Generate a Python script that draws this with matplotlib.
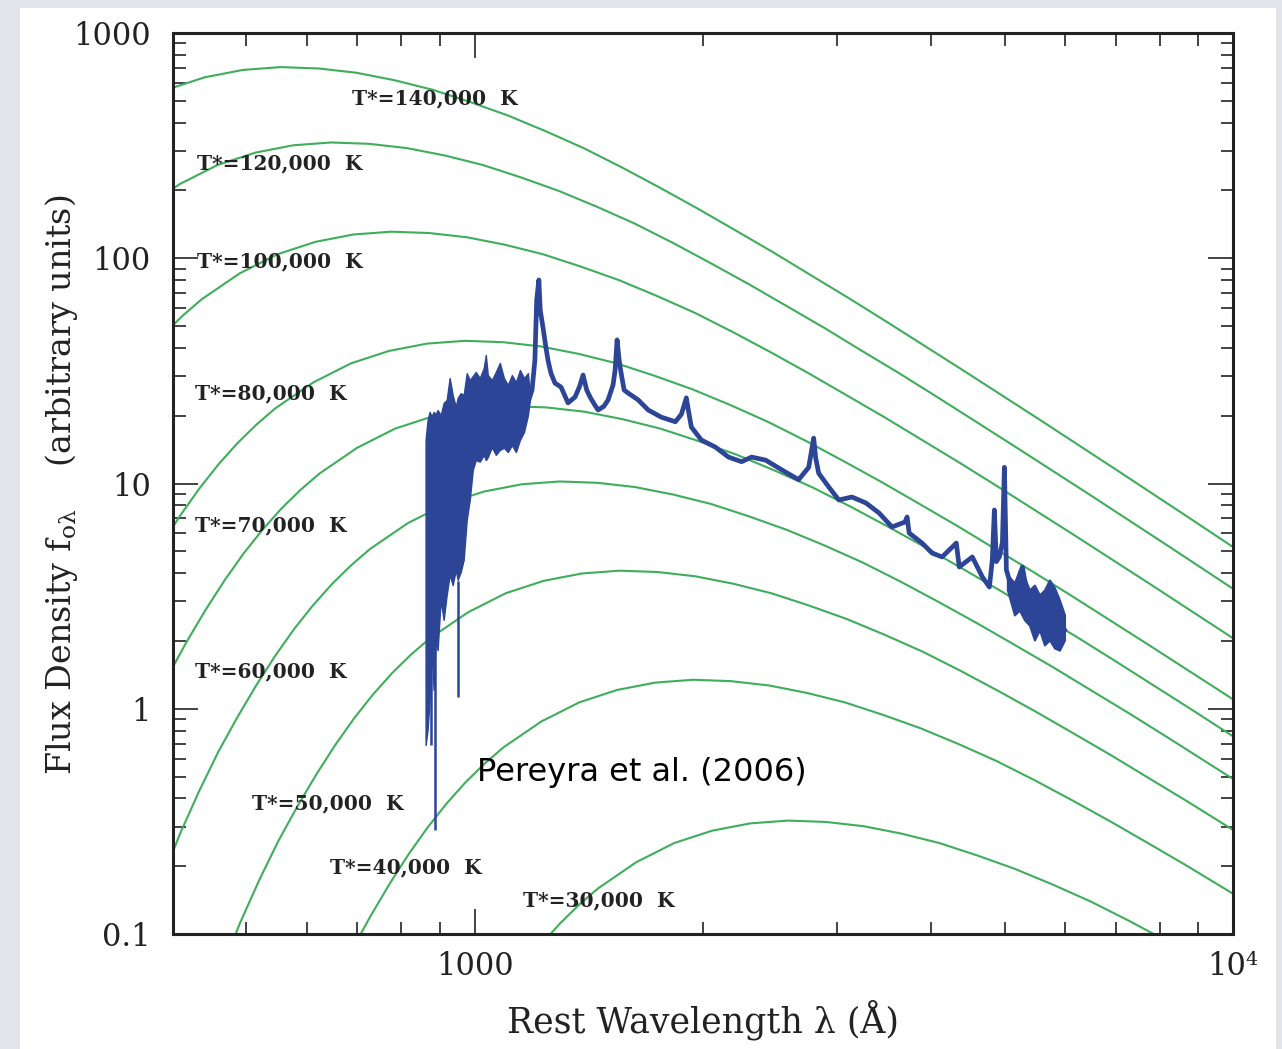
import matplotlib
matplotlib.use("Agg")
import matplotlib.pyplot as plt
from matplotlib.patches import Rectangle
from matplotlib.ticker import NullFormatter, LogLocator

# Disk model curves, T* = 140,000 K ... 30,000 K (wavelength in A, flux arbitrary)
lam_140k = [392.6, 440.6, 494.3, 554.6, 622.3, 698.2, 783.4, 879.0, 986.1, 1106.6, 1241.4, 1393,
            1563, 1754, 1967.6, 2208, 2477, 2780, 3118.5, 3499, 4406, 5546, 6982, 8790, 11066]
flux_140k = [560.5, 636, 685.5, 705.6, 695.9, 666.1, 617.3, 560.5, 493.9, 430.1, 366.0, 307.9,
             253.2, 205.8, 166.2, 132.9, 106.1, 83.8, 66.3, 52.06, 31.8, 19.30, 11.63, 6.974, 4.164]

lam_120k = [363.7, 408.1, 457.9, 513.7, 576.4, 646.8, 725.6, 814.2, 913.6, 1025, 1150.3, 1290.5,
            1448.6, 1625, 1823.6, 2045, 2295.8, 2575, 2890, 3241, 3638, 4081, 5137, 6468, 8142,
            10250]
flux_120k = [163.7, 213.3, 259.4, 294.4, 317.4, 326.6, 322.1, 308.3, 285.8, 259.4, 228.6, 199.1,
             169.4, 142.6, 117.2, 95.3, 76.9, 61.5, 49.1, 38.8, 30.7, 24.1, 14.72, 8.93, 5.383, 3.228]

lam_100k = [389.0, 412.1, 436.5, 489.8, 549.5, 616.6, 691.8, 776.2, 871.0, 977.2, 1096, 1230,
            1380.4, 1549, 1737.8, 1950, 2187.8, 2455, 2754.2, 3090, 3467.4, 3890, 4365.2, 4898,
            6166, 7762, 9772, 12300]
flux_100k = [46.03, 55.67, 65.77, 85.7, 104.2, 118.3, 127.5, 131.2, 129.4, 123.9, 114.8, 104.2,
             91.8, 80.0, 68.08, 57.3, 47.1, 38.3, 30.9, 24.7, 19.72, 15.6, 12.33, 9.68, 5.916,
             3.589, 2.163, 1.297]

lam_80k = [386.3, 409.2, 433.5, 459.1, 486.3, 515.1, 545.6, 612.3, 686.9, 770.7, 864.8, 970.3,
           1088.7, 1221.6, 1371, 1538, 1725.7, 1936, 2172.6, 2437, 2735, 3068, 3443.5, 3863, 4335,
           4863, 5457, 6123, 7707, 9703, 12216]
flux_80k = [5.352, 7.236, 9.517, 12.15, 15.08, 18.24, 21.55, 28.09, 34.17, 38.77, 41.78, 43.0,
            42.41, 40.6, 37.63, 34.17, 30.09, 26.21, 22.31, 18.77, 15.44, 12.55, 10.13, 8.10, 6.464,
            5.111, 4.042, 3.174, 1.939, 1.176, 0.709]

lam_70k = [393.6, 416.8, 441.5, 467.7, 495.4, 524.8, 555.8, 588.8, 623.6, 699.6, 785.0, 880.9,
           988.3, 1108.9, 1244, 1396.5, 1566.5, 1757.6, 1972, 2213, 2483, 2786, 3126, 3507, 3935,
           4415, 4954, 5558, 6236, 6997, 8809, 11089]
flux_70k = [1.392, 1.979, 2.745, 3.711, 4.881, 6.230, 7.735, 9.354, 11.05, 14.40, 17.52, 19.88,
            21.43, 22.06, 21.76, 20.82, 19.30, 17.52, 15.44, 13.44, 11.44, 9.627, 7.915, 6.435,
            5.194, 4.154, 3.315, 2.621, 2.073, 1.627, 0.994, 0.603]

lam_60k = [364.6, 386.3, 409.1, 433.4, 459.0, 486.3, 515.0, 545.6, 577.8, 612.2, 648.4, 686.9,
           727.4, 816.1, 915.8, 1027.5, 1153, 1293.6, 1451.9, 1628.6, 1827, 2050, 2300, 2581,
           2896.6, 3249, 3646.5, 4090, 4590, 5150, 5778, 6484, 7274, 8161, 10275]
flux_60k = [0.1021, 0.1734, 0.2812, 0.4335, 0.6442, 0.9162, 1.27, 1.718, 2.259, 2.884, 3.581,
            4.331, 5.117, 6.668, 8.11, 9.204, 9.92, 10.21, 10.07, 9.64, 8.93, 8.11, 7.145, 6.223,
            5.297, 4.457, 3.664, 2.979, 2.404, 1.923, 1.535, 1.213, 0.9594, 0.7534, 0.4603]

lam_50k = [437.5, 463.4, 490.9, 520.0, 550.8, 583.4, 618.0, 654.6, 693.4, 734.5, 778.0, 824.1,
           873.0, 979.5, 1099, 1233, 1384, 1552, 1742, 1954, 2193, 2460, 2761, 3097, 3475, 3899,
           4375, 4909, 5508, 6180, 6934, 7780, 8730, 9795, 12331]
flux_50k = [0.041, 0.0697, 0.113, 0.1742, 0.2588, 0.3681, 0.5105, 0.6902, 0.9078, 1.159, 1.439,
            1.740, 2.056, 2.679, 3.258, 3.698, 3.985, 4.102, 4.046, 3.873, 3.589, 3.258, 2.871,
            2.500, 2.128, 1.791, 1.472, 1.197, 0.966, 0.7727, 0.6166, 0.4875, 0.3855, 0.3027,
            0.1849]

lam_40k = [613.8, 650.0, 688.4, 729.3, 772.4, 818.2, 866.8, 918.2, 972.5, 1030.1, 1091, 1224,
           1374, 1541, 1729, 1940, 2177, 2443, 2741, 3075, 3450, 3871, 4344, 4874, 5469, 6136,
           6885, 7724, 8668, 9725, 10911, 12243]
flux_40k = [0.037, 0.0571, 0.0848, 0.1206, 0.1673, 0.2262, 0.2975, 0.3798, 0.4716, 0.5702,
            0.6738, 0.8780, 1.068, 1.212, 1.306, 1.345, 1.326, 1.269, 1.176, 1.068, 0.9408,
            0.8194, 0.6975, 0.5867, 0.4825, 0.3923, 0.3166, 0.2533, 0.2020, 0.1598, 0.1263, 0.0992]

lam_30k = [1030.1, 1091.1, 1155.7, 1224, 1297, 1373.6, 1455.7, 1633, 1832, 2055, 2307, 2588,
           2903, 3257, 3655, 4101, 4602, 5163, 5793, 6500, 7294, 8183, 9182, 10302]
flux_30k = [0.0397, 0.0536, 0.0706, 0.0901, 0.1118, 0.1352, 0.1598, 0.2083, 0.2533, 0.2874,
            0.3097, 0.3188, 0.3144, 0.3010, 0.2790, 0.2533, 0.2231, 0.1943, 0.1654, 0.1391,
            0.1144, 0.0930, 0.0751, 0.0600]

curve_labels = ["T*=140,000  K", "T*=120,000  K", "T*=100,000  K", "T*=80,000  K",
                "T*=70,000  K", "T*=60,000  K", "T*=50,000  K", "T*=40,000  K", "T*=30,000  K"]

# quasar spectrum: Ly-alpha forest envelope
forest_lam = [861.3, 866.5, 871.9, 877.1, 882.6, 887.9, 893.4, 901.6, 909.9, 918.3, 926.6, 935.2,
              943.9, 949.5, 958.3, 966.9, 975.9, 984.9, 994.0, 1003.0, 1015.3, 1027.8, 1034.1,
              1040.4, 1053.2, 1066.1, 1079.2, 1092.5, 1105.8, 1119.3, 1133.2, 1147.0, 1161.2,
              1175.3, 1182.2]
forest_hi = [15.6, 19.1, 20.8, 19.9, 20.8, 20.3, 21.2, 20.1, 22.8, 23.5, 29.4, 24.7, 21.9, 24.0,
             25.2, 24.7, 30.9, 28.8, 30.0, 31.3, 29.4, 32.6, 37.2, 30.3, 28.8, 31.3, 34.3, 29.4,
             27.4, 30.3, 28.2, 31.9, 29.4, 30.9, 24.7]
forest_lo = [0.69, 0.805, 1.09, 1.82, 1.21, 2.02, 1.82, 3.04, 2.48, 3.20, 3.93, 3.54, 4.13, 3.73,
             4.05, 4.58, 6.89, 8.45, 11.5, 12.7, 12.5, 13.4, 12.7, 13.1, 14.5, 13.4, 14.1, 14.4,
             13.8, 14.8, 13.8, 15.6, 16.9, 20.1, 23.5]
dip_lam = [874.5, 885.2, 949.5]
dip_hi = [1.8, 2.0, 3.7]
dip_lo = [0.69, 0.29, 1.13]

# emission-line part of the spectrum
line_lam = [1175.3, 1190, 1200.4, 1207, 1215, 1220, 1230, 1241.5, 1249, 1260.3, 1275.8, 1299.5,
            1327.4, 1356, 1375, 1389.5, 1405, 1419.3, 1440, 1454.3, 1480, 1499.2, 1522, 1531.6,
            1540.8, 1550.4, 1559.7, 1574, 1593.4, 1642.6, 1693.4, 1762, 1839, 1873, 1901.4,
            1912.8, 1930.5, 1990, 2077, 2161, 2248.6, 2318, 2419, 2540, 2674, 2757, 2782, 2799,
            2816, 2842, 2930, 3021, 3144, 3281, 3413, 3551, 3694, 3717, 3740, 3890, 4010, 4134,
            4290, 4316, 4355, 4531, 4671, 4772, 4815, 4845, 4874, 4919, 4965, 4995, 5025, 5070,
            5180, 5275, 5389, 5556, 5727, 5851, 5904, 5995]
line_flux = [22.8, 26.0, 35.3, 65.3, 80.1, 58.9, 49.5, 40.0, 35.3, 30.9, 27.9, 26.8, 22.8, 24.2,
             27.0, 30.3, 26.0, 24.2, 22.3, 21.2, 22.0, 23.5, 27.4, 31.9, 43.4, 35.3, 30.9, 26.0,
             25.2, 23.5, 21.2, 19.7, 18.8, 20.3, 24.0, 21.2, 17.8, 15.6, 14.5, 13.1, 12.5, 13.1,
             12.7, 11.5, 10.4, 11.8, 14.1, 15.9, 13.0, 11.1, 9.65, 8.45, 8.71, 8.19, 7.40, 6.41,
             6.75, 7.10, 6.03, 5.44, 4.91, 4.72, 5.33, 5.44, 4.26, 4.72, 3.85, 3.47, 4.58, 7.63,
             4.5, 4.72, 5.5, 11.8, 4.13, 3.73, 3.47, 4.26, 2.83, 2.66, 3.47, 2.66, 2.17, 2.24]

# noisy red end
tail_lam = [5040, 5149, 5228, 5309, 5389, 5472, 5556, 5641, 5727, 5816, 5904, 5995]
tail_hi = [3.93, 3.62, 4.13, 3.81, 3.37, 3.54, 3.20, 3.37, 3.73, 3.44, 3.04, 2.61]
tail_lo = [3.37, 2.61, 2.74, 2.48, 2.35, 2.02, 2.24, 1.92, 2.02, 1.86, 1.82, 2.02]

GREEN = "#3fae5c"
BLUE = "#2c4596"

plt.rcParams["font.family"] = "DejaVu Serif"
plt.rcParams["mathtext.fontset"] = "dejavuserif"
plt.rcParams["mathtext.default"] = "regular"

W, H = 1282, 1049
fig = plt.figure(figsize=(W / 100, H / 100), dpi=100)
fig.patch.set_facecolor("#e2e5ea")
fig.add_artist(Rectangle((20 / W, 0), (1276 - 20) / W, 1041 / H, transform=fig.transFigure,
                         facecolor="white", edgecolor="none", zorder=0))

ax = fig.add_axes([173 / W, 1 - 934 / H, 1060 / W, 901 / H])
ax.set_xscale("log")
ax.set_yscale("log")

curves = [(lam_140k, flux_140k), (lam_120k, flux_120k), (lam_100k, flux_100k),
          (lam_80k, flux_80k), (lam_70k, flux_70k), (lam_60k, flux_60k),
          (lam_50k, flux_50k), (lam_40k, flux_40k), (lam_30k, flux_30k)]
for lam, flux in curves:
    ax.plot(lam, flux, color=GREEN, lw=1.5, solid_joinstyle="round", zorder=2)

ax.fill_between(forest_lam, forest_lo, forest_hi, color=BLUE, lw=1.0, zorder=3)
ax.vlines(dip_lam, dip_lo, dip_hi, color=BLUE, lw=1.8, zorder=3)
ax.plot(line_lam, line_flux, color=BLUE, lw=3.4, solid_joinstyle="round", zorder=3)
ax.fill_between(tail_lam, tail_lo, tail_hi, color=BLUE, lw=1.5, zorder=3)

ax.set_xlim(400, 10000)
ax.set_ylim(0.1, 1000)

ax.set_xticks([1000, 10000], labels=["1000", "10⁴"])
ax.set_yticks([0.1, 1, 10, 100, 1000], labels=["0.1", "1", "10", "100", "1000"])
ax.xaxis.set_minor_locator(LogLocator(base=10, subs=range(2, 10), numticks=20))
ax.yaxis.set_minor_locator(LogLocator(base=10, subs=range(2, 10), numticks=20))
ax.xaxis.set_minor_formatter(NullFormatter())
ax.yaxis.set_minor_formatter(NullFormatter())
ax.tick_params(which="both", direction="in", top=True, right=True, width=1.2, color="#222222")
ax.tick_params(which="major", length=18, labelsize=22, labelcolor="#222222")
ax.tick_params(which="minor", length=9)
ax.tick_params(axis="x", which="major", pad=12)
ax.tick_params(axis="y", which="major", pad=16)
for sp in ax.spines.values():
    sp.set_linewidth(2.2)
    sp.set_color("#222222")

label_pos = [(0.169, 0.927), (0.023, 0.855), (0.023, 0.746), (0.021, 0.600), (0.021, 0.454),
             (0.021, 0.292), (0.075, 0.145), (0.148, 0.074), (0.330, 0.037)]
for txt, (x, y) in zip(curve_labels, label_pos):
    ax.text(x, y, txt, transform=ax.transAxes, ha="left", va="center",
            fontsize=14.5, fontweight="bold", color="#222222", zorder=4)

ax.text(0.287, 0.179, "Pereyra et al. (2006)", transform=ax.transAxes, ha="left", va="center",
        fontsize=23, family="DejaVu Sans", color="black", zorder=5)

fig.text(703 / W, 1 - 1020 / H, "Rest Wavelength λ (Å)", ha="center", va="center",
         fontsize=25, color="#222222")
fig.text(62 / W, 1 - 485 / H, r"Flux Density f$_{o\lambda}$    (arbitrary units)",
         ha="center", va="center", rotation=90, fontsize=24, color="#222222")

fig.savefig("out.png", dpi=100, facecolor=fig.get_facecolor())
